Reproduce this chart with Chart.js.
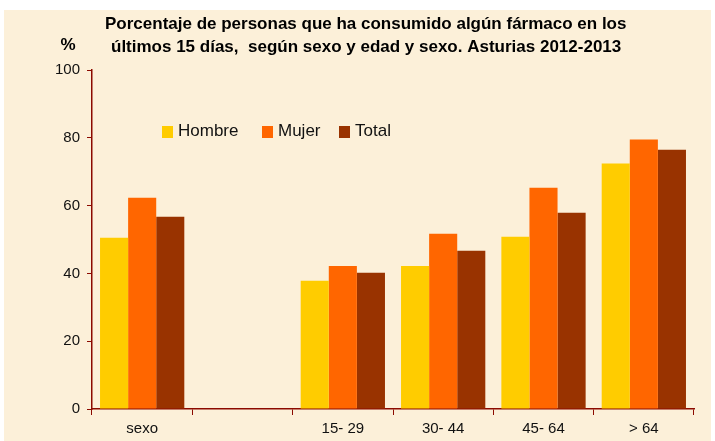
<!DOCTYPE html>
<html>
<head>
<meta charset="utf-8">
<script src="https://cdn.jsdelivr.net/npm/chart.js@4.4.0/dist/chart.umd.min.js"></script>
<style>
	html, body { margin: 0; padding: 0; background: #fff; }
	#wrap { width: 715px; height: 441px; }
</style>
</head>
<body>
<div id="wrap"><canvas id="chart" width="715" height="441"></canvas></div>
<script>
const categories = ["sexo", "", "15- 29", "30- 44", "45- 64", "> 64"];
const hombre = [50.5, null, 37.8, 42.2, 50.8, 72.4];
const mujer = [62.3, null, 42.2, 51.7, 65.3, 79.5];
const total = [56.7, null, 40.2, 46.7, 57.9, 76.5];
const yTicks = [0, 20, 40, 60, 80, 100];

const titleLines = [
	"Porcentaje de personas que ha consumido algún fármaco en los",
	"últimos 15 días,  según sexo y edad y sexo. Asturias 2012-2013",
];

const axisColor = "#8c0a00";

// fondo crema, título y leyenda dibujados a mano
const decor = {
	id: "decor",
	beforeDraw(chart) {
		const c = chart.ctx;
		c.save();
		c.fillStyle = "#ffffff";
		c.fillRect(0, 0, chart.width, chart.height);
		c.fillStyle = "#fcf0d9";
		c.fillRect(4, 10, chart.width - 8, chart.height - 10);
		c.restore();
	},
	afterDraw(chart) {
		const c = chart.ctx;
		c.save();
		c.fillStyle = "#000";
		c.font = "bold 17px 'Liberation Sans', Arial, sans-serif";
		c.textBaseline = "middle";
		c.textAlign = "left";
		c.fillText(titleLines[0], 105, 24);
		c.fillText(titleLines[1], 111, 47);
		c.textAlign = "center";
		c.fillText("%", 68, 45);

		// leyenda
		const pos = [162, 262, 339];
		c.font = "17px 'Liberation Sans', Arial, sans-serif";
		c.textAlign = "left";
		chart.data.datasets.forEach((ds, i) => {
			c.fillStyle = ds.backgroundColor;
			c.fillRect(pos[i], 126, 11, 12);
			c.fillStyle = "#111";
			c.fillText(ds.label, pos[i] + 16, 131);
		});
		c.restore();
	},
};

new Chart(document.getElementById("chart"), {
	type: "bar",
	data: {
		labels: categories,
		datasets: [
			{ label: "Hombre", data: hombre, backgroundColor: "#ffcc00" },
			{ label: "Mujer", data: mujer, backgroundColor: "#ff6600" },
			{ label: "Total", data: total, backgroundColor: "#993300" },
		],
	},
	options: {
		responsive: false,
		animation: false,
		layout: { padding: { top: 70, right: 21, left: 0, bottom: 0 } },
		datasets: { bar: { categoryPercentage: 0.84, barPercentage: 1 } },
		plugins: {
			legend: { display: false },
			title: { display: false },
			tooltip: { enabled: false },
		},
		scales: {
			x: {
				grid: {
					display: true,
					offset: true,
					drawOnChartArea: false,
					tickLength: 6,
					color: axisColor,
				},
				border: { color: axisColor, width: 1.5 },
				ticks: {
					color: "#111",
					font: { family: "'Liberation Sans', Arial, sans-serif", size: 15 },
					padding: 5,
					maxRotation: 0,
				},
				afterFit(scale) { scale.height = 32; },
			},
			y: {
				min: 0,
				max: 100,
				grid: {
					display: true,
					drawOnChartArea: false,
					tickLength: 5,
					color: axisColor,
				},
				border: { color: axisColor, width: 1.5 },
				afterBuildTicks(scale) { scale.ticks = yTicks.map(v => ({ value: v })); },
				ticks: {
					color: "#111",
					font: { family: "'Liberation Sans', Arial, sans-serif", size: 15 },
					padding: 7,
				},
				afterFit(scale) { scale.width = 92; },
			},
		},
	},
	plugins: [decor],
});
</script>
</body>
</html>
